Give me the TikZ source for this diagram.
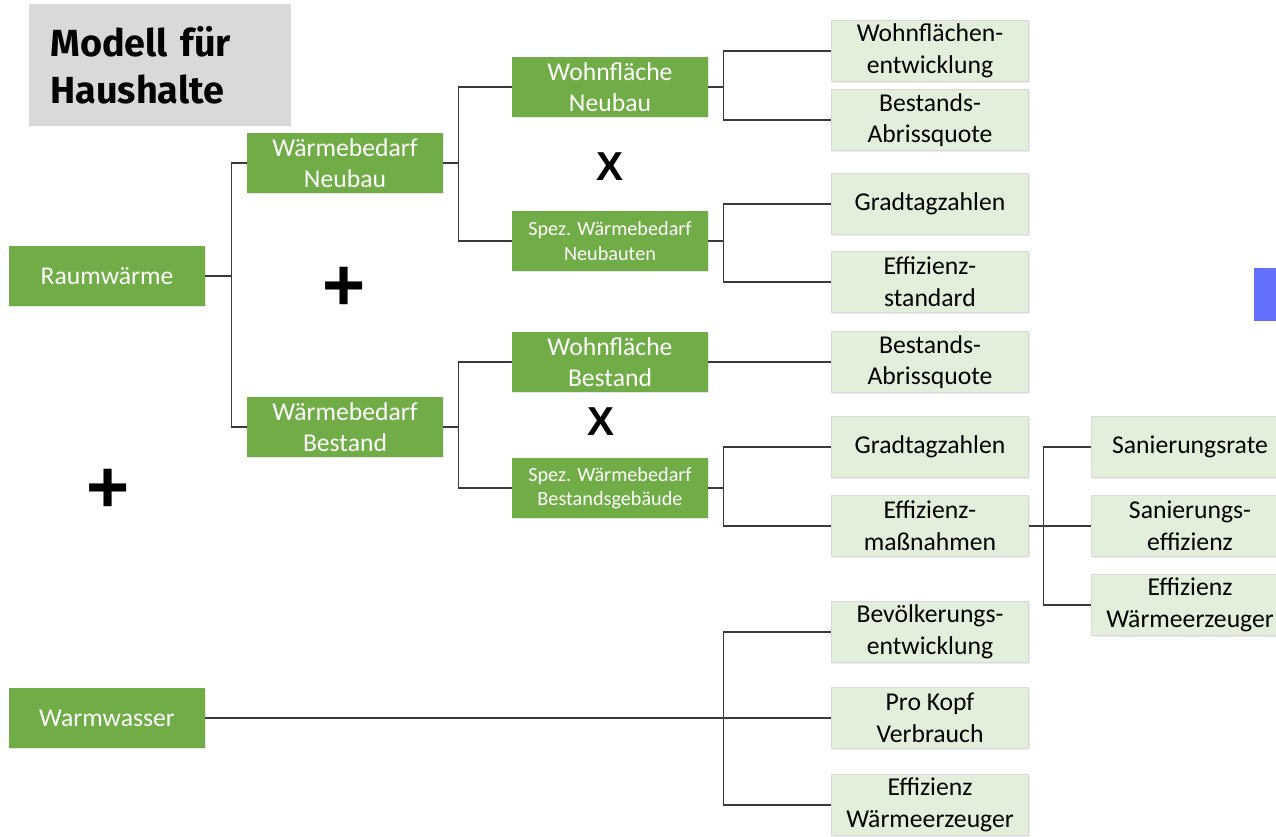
\documentclass[tikz,border=0pt]{standalone}
\usepackage{fontspec}
\setmainfont{Carlito}
\newfontfamily\titelfont{Fira Sans}
\newfontfamily\opfont{Liberation Sans}
\usepackage{xcolor}
\usepackage{tikz}
\usetikzlibrary{shadows}

\definecolor{gruen}{HTML}{70AD47}
\definecolor{hellgruen}{HTML}{E2EFDA}
\definecolor{titelgrau}{HTML}{D9D9D9}
\definecolor{linienfarbe}{HTML}{3A3A3A}
\definecolor{blaufleck}{HTML}{6670FF}

\begin{document}
\begin{tikzpicture}[
        x=0.02cm, y=-0.02cm, % 1 Einheit = 1 Pixel der Vorlage
        hauptbox/.style={fill=gruen, text=white, minimum width=3.92cm,
        minimum height=1.2cm, inner sep=0pt, align=center,
        font=\fontsize{14.6}{18}\selectfont,
        drop shadow={shadow xshift=0.6pt, shadow yshift=-0.8pt, opacity=0.2}}, % dunkelgruene Kaesten
        kleinbox/.style={hauptbox, font=\fontsize{11.5}{13.8}\selectfont}, % Spez. Waermebedarf
        faktorbox/.style={fill=hellgruen, draw=black!15, text=black,
        minimum width=3.94cm, minimum height=1.22cm, inner sep=0pt, align=center,
        font=\fontsize{14.6}{18}\selectfont,
        drop shadow={shadow xshift=0.6pt, shadow yshift=-0.8pt, opacity=0.15}}, % hellgruene Kaesten
        linie/.style={draw=linienfarbe, line width=0.75pt}, % Verbindungslinien
        plus/.style={font=\opfont\bfseries\fontsize{42}{42}\selectfont}, % Plus
        mal/.style={font=\opfont\bfseries\fontsize{23}{23}\selectfont}, % X
    ]
        \useasboundingbox (0,0) rectangle (1276,836);
        \clip (0,0) rectangle (1276,836);

        % --- Titel ---
        \node[fill=titelgrau, anchor=north west, minimum width=5.24cm, minimum height=2.44cm,
            inner xsep=0.42cm, text width=4.4cm, align=left,
            font=\titelfont\bfseries\fontsize{21.5}{26.7}\selectfont] (titel) at (29,4)
            {Modell für\\Haushalte};

        % --- Hauptzweige ---
        \node[hauptbox] (raum) at (107,276) {Raumwärme};
        \node[hauptbox] (wasser) at (107,718) {Warmwasser};

        \node[hauptbox] (wbneu) at (345,163) {Wärmebedarf\\Neubau};
        \node[hauptbox] (wbbest) at (345,427) {Wärmebedarf\\Bestand};

        % --- Neubau ---
        \node[hauptbox] (wfneu) at (610,87) {Wohnfläche\\Neubau};
        \node[kleinbox] (spezneu) at (610,241) {Spez. Wärmebedarf\\Neubauten};

        \node[faktorbox] (wfentw) at (930,51) {Wohnflächen-\\entwicklung};
        \node[faktorbox] (abriss1) at (930,120) {Bestands-\\Abrissquote};
        \node[faktorbox] (gtz1) at (930,204) {Gradtagzahlen};
        \node[faktorbox] (effstd) at (930,282) {Effizienz-\\standard};

        % --- Bestand ---
        \node[hauptbox] (wfbest) at (610,362) {Wohnfläche\\Bestand};
        \node[kleinbox] (spezbest) at (610,488) {Spez. Wärmebedarf\\Bestandsgebäude};

        \node[faktorbox] (abriss2) at (930,362) {Bestands-\\Abrissquote};
        \node[faktorbox] (gtz2) at (930,447) {Gradtagzahlen};
        \node[faktorbox] (effmass) at (930,526) {Effizienz-\\maßnahmen};

        \node[faktorbox] (sanrate) at (1190,447) {Sanierungsrate};
        \node[faktorbox] (saneff) at (1190,526) {Sanierungs-\\effizienz};
        \node[faktorbox] (effwe1) at (1190,605) {Effizienz\\Wärmeerzeuger};

        % --- Warmwasser ---
        \node[faktorbox] (bevoelk) at (930,632) {Bevölkerungs-\\entwicklung};
        \node[faktorbox] (prokopf) at (930,718) {Pro Kopf\\Verbrauch};
        \node[faktorbox] (effwe2) at (930,805) {Effizienz\\Wärmeerzeuger};

        % --- Operatoren ---
        \node[plus] (plus1) at (344,289) {+};
        \node[plus] (plus2) at (108,491) {+};
        \node[mal] (mal1) at (610,167) {X};
        \node[mal] (mal2) at (601,422) {X};

        % --- Verbindungen ---
        \draw[linie] (raum.east) -- ++(26,0) |- (wbneu.west);
        \draw[linie] (raum.east) -- ++(26,0) |- (wbbest.west);

        \draw[linie] (wbneu.east) -- ++(15,0) |- (wfneu.west);
        \draw[linie] (wbneu.east) -- ++(15,0) |- (spezneu.west);
        \draw[linie] (wbbest.east) -- ++(15,0) |- (wfbest.west);
        \draw[linie] (wbbest.east) -- ++(15,0) |- (spezbest.west);

        \draw[linie] (wfneu.east) -- ++(15,0) |- (wfentw.west);
        \draw[linie] (wfneu.east) -- ++(15,0) |- (abriss1.west);
        \draw[linie] (spezneu.east) -- ++(15,0) |- (gtz1.west);
        \draw[linie] (spezneu.east) -- ++(15,0) |- (effstd.west);

        \draw[linie] (wfbest.east) -- (abriss2.west);
        \draw[linie] (spezbest.east) -- ++(15,0) |- (gtz2.west);
        \draw[linie] (spezbest.east) -- ++(15,0) |- (effmass.west);

        \draw[linie] (effmass.east) -- ++(15,0) |- (sanrate.west);
        \draw[linie] (effmass.east) -- ++(15,0) |- (saneff.west);
        \draw[linie] (effmass.east) -- ++(15,0) |- (effwe1.west);

        \draw[linie, line width=1.1pt] (wasser.east) -- ++(518,0) |- (prokopf.west);
        \draw[linie] (wasser.east) -- ++(518,0) |- (bevoelk.west);
        \draw[linie] (wasser.east) -- ++(518,0) |- (effwe2.west);

        % --- blauer Rand rechts ---
        \fill[blaufleck] (1254,268) rectangle (1276,321);
    \end{tikzpicture}
\end{document}
